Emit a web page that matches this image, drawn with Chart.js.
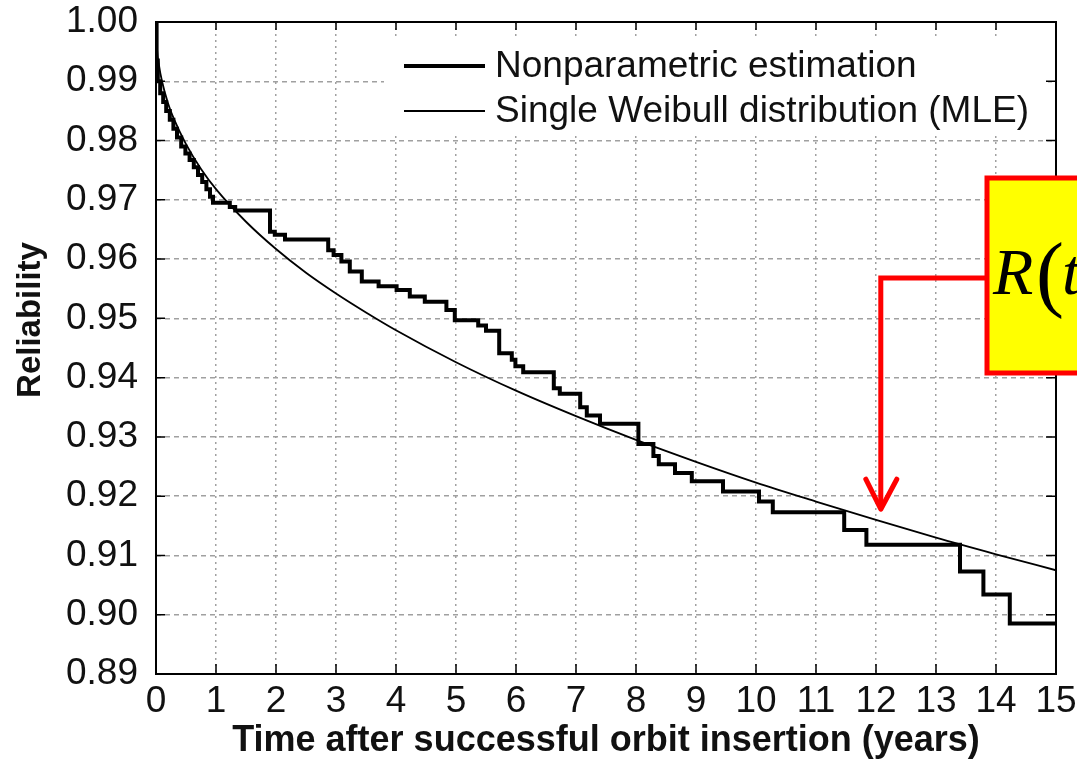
<!DOCTYPE html>
<html>
<head>
<meta charset="utf-8">
<script src="https://cdn.jsdelivr.net/npm/chart.js@4"></script>
<style>
  html, body { margin: 0; padding: 0; background: #fff; }
  #chart { display: block; }
</style>
</head>
<body>
<canvas id="chart" width="1077" height="759"></canvas>
<script>
// Nonparametric (Kaplan-Meier) estimate: time of each drop and level after it
const stepTimes = [0, 0.01, 0.03, 0.07, 0.12, 0.17, 0.23, 0.29, 0.35, 0.42, 0.49, 0.56, 0.63, 0.70, 0.77, 0.84, 0.90, 0.95,
  1.23, 1.32, 1.90, 1.98, 2.15, 2.87, 2.96, 3.09, 3.23, 3.43, 3.71, 4.01, 4.23, 4.48, 4.84, 4.98, 5.37, 5.50, 5.72, 5.93,
  5.99, 6.12, 6.63, 6.73, 7.07, 7.18, 7.40, 8.04, 8.29, 8.38, 8.65, 8.93, 9.45, 10.05, 10.28, 11.47, 11.84, 13.40, 13.79,
  14.23, 15.00];
const stepReliability = [1.000, 0.9935, 0.9900, 0.9880, 0.9865, 0.9850, 0.9835, 0.9820, 0.9805, 0.9790, 0.9778, 0.9767,
  0.9755, 0.9742, 0.9730, 0.9718, 0.9705, 0.9695, 0.9688, 0.9682, 0.9646, 0.9641, 0.9633, 0.9615, 0.9607, 0.9596, 0.9579,
  0.9562, 0.9554, 0.9548, 0.9537, 0.9528, 0.9514, 0.9497, 0.9488, 0.9479, 0.9441, 0.9430, 0.9419, 0.9409, 0.9382, 0.9373,
  0.9350, 0.9336, 0.9322, 0.9288, 0.9268, 0.9254, 0.9239, 0.9225, 0.9208, 0.9191, 0.9173, 0.9143, 0.9118, 0.9073, 0.9034,
  0.8985, 0.8985];

// Single Weibull fit
const weibullTimes = [0, 0.02, 0.05, 0.1, 0.2, 0.3, 0.5, 0.75, 1, 1.5, 2, 2.5, 3, 3.5, 4, 5, 6, 7, 8, 9, 10, 11, 12, 13, 14, 15];
const weibullReliability = [1.000, 0.9951, 0.9927, 0.9900, 0.9863, 0.9836, 0.9794, 0.9752, 0.9718, 0.9663, 0.9617, 0.9577,
  0.9542, 0.9510, 0.9480, 0.9426, 0.9378, 0.9335, 0.9295, 0.9258, 0.9223, 0.9191, 0.9160, 0.9130, 0.9102, 0.9075];

const seriesLabels = ['Nonparametric estimation', 'Single Weibull distribution (MLE)'];
const xTitle = 'Time after successful orbit insertion (years)';
const yTitle = 'Reliability';
const calloutParts = ['R', '(', 't'];
const calloutTime = 12.08;   // where the red arrow points
const calloutValue = 0.9178;

const FONT = "'Liberation Sans', Arial, Helvetica, sans-serif";
const SERIF = "'Liberation Serif', 'Times New Roman', serif";
const gridGray = '#a0a0a0';

function toPoints(xs, ys) {
  return xs.map((x, i) => ({ x: x, y: ys[i] }));
}

// frame + inward tick marks on all four sides
const framePlugin = {
  id: 'frame',
  afterDatasetsDraw(chart) {
    const { ctx, chartArea: a, scales } = chart;
    ctx.save();
    ctx.strokeStyle = '#000';
    ctx.lineWidth = 1.5;
    for (let t = 1; t < 15; t++) {
      const px = scales.x.getPixelForValue(t);
      ctx.beginPath();
      ctx.moveTo(px, a.bottom); ctx.lineTo(px, a.bottom - 10);
      ctx.moveTo(px, a.top); ctx.lineTo(px, a.top + 8);
      ctx.stroke();
    }
    for (let i = 1; i < 11; i++) {
      const py = scales.y.getPixelForValue(0.89 + i * 0.01);
      ctx.beginPath();
      ctx.moveTo(a.left, py); ctx.lineTo(a.left + 9, py);
      ctx.moveTo(a.right, py); ctx.lineTo(a.right - 10, py);
      ctx.stroke();
    }
    ctx.lineWidth = 2;
    ctx.strokeRect(a.left, a.top, a.right - a.left, a.bottom - a.top);

    // y axis title, sits a bit above the middle of the axis in the original
    ctx.translate(31, 320);
    ctx.rotate(-Math.PI / 2);
    ctx.fillStyle = '#111';
    ctx.font = 'bold 33px ' + FONT;
    ctx.textAlign = 'center';
    ctx.textBaseline = 'middle';
    ctx.fillText(yTitle, 0, 0);
    ctx.restore();
  }
};

// legend drawn inside the plot, on a white patch that hides the grid
const legendPlugin = {
  id: 'insideLegend',
  beforeDatasetsDraw(chart) {
    const { ctx } = chart;
    ctx.save();
    ctx.fillStyle = '#fff';
    ctx.fillRect(384, 38, 664, 96);
    ctx.restore();
  },
  afterDatasetsDraw(chart) {
    const { ctx } = chart;
    ctx.save();
    chart.data.datasets.forEach((ds, i) => {
      const y = 66 + i * 45;
      ctx.strokeStyle = ds.borderColor;
      ctx.lineWidth = ds.borderWidth;
      ctx.beginPath();
      ctx.moveTo(404, y); ctx.lineTo(485, y);
      ctx.stroke();
      ctx.fillStyle = '#111';
      ctx.font = '37px ' + FONT;
      ctx.textBaseline = 'middle';
      ctx.textAlign = 'left';
      ctx.fillText(ds.label, 495, y + 1);
    });
    ctx.restore();
  }
};

// yellow callout box with red elbow arrow
const calloutPlugin = {
  id: 'callout',
  afterDraw(chart) {
    const { ctx, scales } = chart;
    const tipX = scales.x.getPixelForValue(calloutTime);
    const tipY = scales.y.getPixelForValue(calloutValue);
    const boxL = 987, boxT = 178, boxB = 373, elbowY = 278;
    ctx.save();
    ctx.fillStyle = '#ffff00';
    ctx.fillRect(boxL, boxT, 200, boxB - boxT);
    ctx.strokeStyle = '#ff0000';
    ctx.lineWidth = 5;
    ctx.strokeRect(boxL, boxT, 200, boxB - boxT);

    ctx.fillStyle = '#000';
    ctx.textBaseline = 'alphabetic';
    ctx.textAlign = 'left';
    ctx.font = 'italic 66px ' + SERIF;
    ctx.fillText(calloutParts[0], 993, 294);
    ctx.font = '84px ' + SERIF;
    ctx.fillText(calloutParts[1], 1036, 301);
    ctx.font = 'italic 66px ' + SERIF;
    ctx.fillText(calloutParts[2], 1062, 294);

    ctx.lineJoin = 'miter';
    ctx.lineCap = 'butt';
    ctx.beginPath();
    ctx.moveTo(boxL, elbowY);
    ctx.lineTo(tipX, elbowY);
    ctx.lineTo(tipX, tipY - 4);
    ctx.stroke();
    ctx.lineCap = 'round';
    ctx.lineJoin = 'round';
    ctx.beginPath();
    ctx.moveTo(tipX - 15, tipY - 30);
    ctx.lineTo(tipX, tipY);
    ctx.lineTo(tipX + 16, tipY - 30);
    ctx.stroke();
    ctx.restore();
  }
};

new Chart(document.getElementById('chart').getContext('2d'), {
  type: 'line',
  data: {
    datasets: [{
      label: seriesLabels[0],
      data: toPoints(stepTimes, stepReliability),
      stepped: 'before',
      borderColor: '#000',
      borderWidth: 4,
      pointRadius: 0,
      fill: false
    }, {
      label: seriesLabels[1],
      data: toPoints(weibullTimes, weibullReliability),
      cubicInterpolationMode: 'monotone',
      borderColor: '#000',
      borderWidth: 1.8,
      pointRadius: 0,
      fill: false
    }]
  },
  options: {
    responsive: false,
    devicePixelRatio: 1,
    animation: false,
    layout: { padding: { top: 22, right: 21, left: 0, bottom: 0 } },
    plugins: {
      legend: { display: false },
      tooltip: { enabled: false }
    },
    scales: {
      x: {
        type: 'linear',
        min: 0,
        max: 15,
        afterFit(scale) {
          scale.height = 85;
          scale.paddingLeft = 0;
          scale.paddingRight = 0;
        },
        ticks: {
          stepSize: 1,
          padding: 6,
          color: '#111',
          font: { family: FONT, size: 37 }
        },
        grid: { color: gridGray, lineWidth: 1.5, drawTicks: false },
        border: { display: false, dash: [2, 4] },
        title: {
          display: true,
          text: xTitle,
          color: '#111',
          padding: { top: 0, bottom: 0 },
          font: { family: FONT, size: 36, weight: 'bold', lineHeight: 1 }
        }
      },
      y: {
        type: 'linear',
        min: 0.89,
        max: 1.00,
        afterFit(scale) {
          scale.width = 156;
          scale.paddingTop = 0;
          scale.paddingBottom = 0;
        },
        ticks: {
          stepSize: 0.01,
          padding: 18,
          color: '#111',
          font: { family: FONT, size: 37 },
          callback: (v) => v.toFixed(2)
        },
        grid: { color: gridGray, lineWidth: 1.5, drawTicks: false },
        border: { display: false, dash: [5, 4] },
        title: { display: false }
      }
    }
  },
  plugins: [legendPlugin, framePlugin, calloutPlugin]
});
</script>
</body>
</html>
